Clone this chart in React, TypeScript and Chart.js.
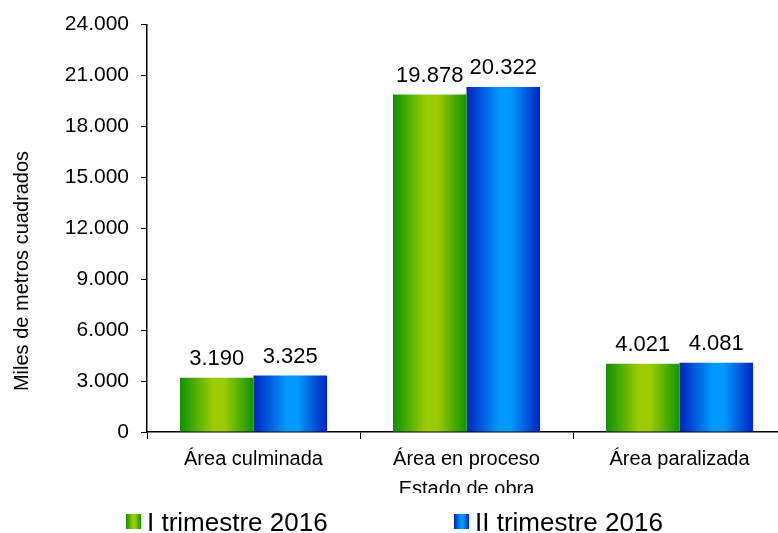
import React, { useEffect, useRef } from 'react';
import { Chart, registerables } from 'chart.js';

Chart.register(...registerables);

const categories = ['Área culminada', 'Área en proceso', 'Área paralizada'];
const seriesNames = ['I trimestre 2016', 'II trimestre 2016'];
const trimestre1 = [3190, 19878, 4021];
const trimestre2 = [3325, 20322, 4081];
const yMin = 0;
const yMax = 24000;
const yStep = 3000;
const yAxisTitle = 'Miles de metros cuadrados';
const xAxisTitle = 'Estado de obra';

const palettes = [
  ['#0d9300', '#9ccc00', '#0e9500'],
  ['#0023c0', '#0099ff', '#0023c0'],
];

const FONT = '"Liberation Sans", Arial, sans-serif';

const fmt = (v: number) =>
  Math.round(v).toString().replace(/\B(?=(\d{3})+(?!\d))/g, '.');

function makeGrad(ctx: CanvasRenderingContext2D, x0: number, x1: number, stops: string[]) {
  const g = ctx.createLinearGradient(x0, 0, x1, 0);
  g.addColorStop(0, stops[0]);
  g.addColorStop(0.45, stops[1]);
  g.addColorStop(0.6, stops[1]);
  g.addColorStop(1, stops[2]);
  return g;
}

const gradientPlugin = {
  id: 'barGradient',
  beforeDatasetsDraw(chart: any) {
    const ctx = chart.ctx;
    chart.data.datasets.forEach((_ds: any, i: number) => {
      const meta = chart.getDatasetMeta(i);
      meta.data.forEach((bar: any) => {
        const { x, width } = bar.getProps(['x', 'width'], true);
        const opts = Object.assign({}, bar.options);
        opts.backgroundColor = makeGrad(ctx, x - width / 2, x + width / 2, palettes[i]);
        bar.options = opts;
      });
    });
  },
};

const valueLabelPlugin = {
  id: 'valueLabels',
  afterDatasetsDraw(chart: any) {
    const ctx = chart.ctx;
    ctx.save();
    ctx.font = `22px ${FONT}`;
    ctx.fillStyle = '#000';
    ctx.textAlign = 'center';
    ctx.textBaseline = 'bottom';
    chart.data.datasets.forEach((ds: any, i: number) => {
      const meta = chart.getDatasetMeta(i);
      meta.data.forEach((bar: any, j: number) => {
        const { x, y } = bar.getProps(['x', 'y'], true);
        ctx.fillText(fmt(ds.data[j]), x, y - 8);
      });
    });
    ctx.restore();
  },
};

const decorPlugin = {
  id: 'decor',
  afterDraw(chart: any) {
    const ctx = chart.ctx;
    const area = chart.chartArea;
    ctx.save();
    ctx.font = `20px ${FONT}`;
    ctx.fillStyle = '#000';
    ctx.textAlign = 'center';
    ctx.textBaseline = 'middle';
    ctx.translate(22, 271);
    ctx.rotate(-Math.PI / 2);
    ctx.fillText(yAxisTitle, 0, 0);
    ctx.restore();

    ctx.save();
    ctx.beginPath();
    ctx.rect(0, 470, chart.width, 23);
    ctx.clip();
    ctx.font = `20px ${FONT}`;
    ctx.fillStyle = '#000';
    ctx.textAlign = 'center';
    ctx.textBaseline = 'top';
    ctx.fillText(xAxisTitle, (area.left + area.right) / 2, 479);
    ctx.restore();

    ctx.save();
    const items = [
      { x: 126, label: chart.data.datasets[0].label },
      { x: 454, label: chart.data.datasets[1].label },
    ];
    items.forEach((it, i) => {
      ctx.fillStyle = makeGrad(ctx, it.x, it.x + 15, palettes[i]);
      ctx.fillRect(it.x, 514, 15, 15);
      ctx.font = `26px ${FONT}`;
      ctx.fillStyle = '#000';
      ctx.textAlign = 'left';
      ctx.textBaseline = 'alphabetic';
      ctx.fillText(it.label, it.x + 21, 531);
    });
    ctx.restore();
  },
};

export default function App() {
  const ref = useRef<HTMLCanvasElement>(null);
  useEffect(() => {
    if (!ref.current) return;
    const chart = new Chart(ref.current, {
      type: 'bar',
      data: {
        labels: categories,
        datasets: [
          { label: seriesNames[0], data: trimestre1, backgroundColor: () => palettes[0][1], borderWidth: 0 },
          { label: seriesNames[1], data: trimestre2, backgroundColor: () => palettes[1][1], borderWidth: 0 },
        ],
      },
      options: {
        responsive: false,
        animation: false,
        devicePixelRatio: 1,
        layout: { padding: { left: 0, right: 14, top: 20, bottom: 0 } },
        datasets: {
          bar: { categoryPercentage: 0.69, barPercentage: 1 },
        },
        plugins: {
          legend: { display: false },
          tooltip: { enabled: false },
        },
        scales: {
          x: {
            afterFit: (s: any) => { s.height = 101; },
            border: { color: '#000', width: 1.5 },
            grid: { display: true, drawOnChartArea: false, drawTicks: true, tickLength: 7, color: '#000', offset: true },
            ticks: { color: '#000', font: { family: FONT, size: 20 }, padding: 8, maxRotation: 0 },
          },
          y: {
            min: yMin,
            max: yMax,
            afterFit: (s: any) => { s.width = 147; },
            border: { color: '#000', width: 1.5 },
            grid: { display: true, drawOnChartArea: false, drawTicks: true, tickLength: 6, color: '#000' },
            ticks: {
              stepSize: yStep,
              color: '#000',
              font: { family: FONT, size: 21 },
              padding: 12,
              callback: (v: any) => fmt(Number(v)),
            },
          },
        },
      },
      plugins: [gradientPlugin, valueLabelPlugin, decorPlugin],
    });
    return () => chart.destroy();
  }, []);
  return (
    <div style={{ position: 'fixed', left: 0, top: 0, width: 778, height: 533, overflow: 'hidden', background: '#fff' }}>
      <canvas ref={ref} width={800} height={533} style={{ width: 800, height: 533, display: 'block' }} />
    </div>
  );
}
